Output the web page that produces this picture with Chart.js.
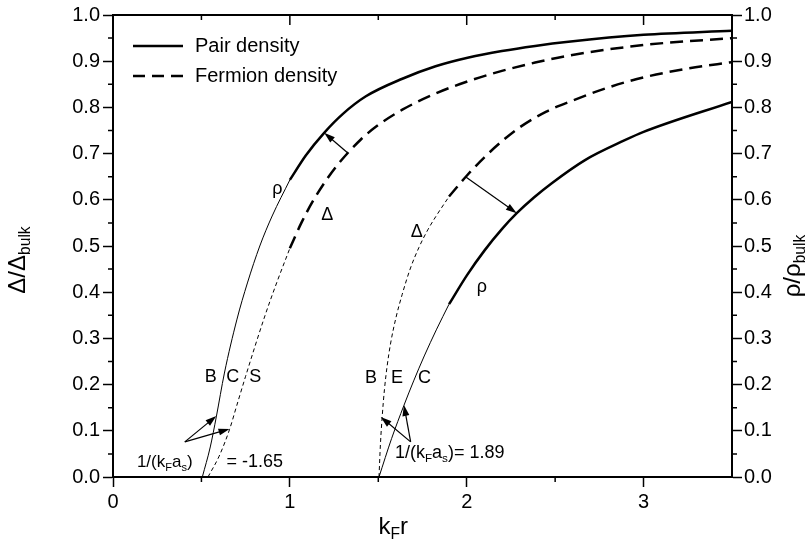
<!DOCTYPE html>
<html lang="en">
<head>
<meta charset="UTF-8">
<title>Pair and fermion density</title>
<script src="https://cdn.jsdelivr.net/npm/chart.js"></script>
<style>
  body { margin: 0; background: #fff; }
  #wrap { width: 810px; height: 548px; }
</style>
</head>
<body>
<div id="wrap"><canvas id="densityChart" width="810" height="548"></canvas></div>
<script>
  // axis ticks
  const xTicks = [0, 1, 2, 3];
  const xMinorTicks = [0.5, 1.5, 2.5];
  const yTicks = [0, 0.1, 0.2, 0.3, 0.4, 0.5, 0.6, 0.7, 0.8, 0.9, 1.0];
  const yMinorTicks = [0.05, 0.15, 0.25, 0.35, 0.45, 0.55, 0.65, 0.75, 0.85, 0.95];

  // BCS side, 1/(kF as) = -1.65
  const rhoBcsX = [0.505, 0.55, 0.584, 0.63, 0.70, 0.76, 0.83, 0.90, 1.0, 1.09, 1.194, 1.30, 1.43, 1.636, 1.824, 2.011, 2.199, 2.387, 2.575, 3.0, 3.5];
  const rhoBcsY = [0, 0.065, 0.13, 0.225, 0.34, 0.42, 0.50, 0.565, 0.643, 0.696, 0.745, 0.786, 0.824, 0.862, 0.889, 0.908, 0.922, 0.933, 0.942, 0.957, 0.966];
  const deltaBcsX = [0.537, 0.60, 0.659, 0.70, 0.749, 0.86, 0.93, 1.0, 1.065, 1.13, 1.21, 1.29, 1.40, 1.486, 1.636, 1.824, 2.011, 2.199, 2.387, 2.575, 3.0, 3.5];
  const deltaBcsY = [0, 0.045, 0.103, 0.155, 0.217, 0.35, 0.425, 0.495, 0.55, 0.597, 0.645, 0.685, 0.73, 0.758, 0.795, 0.83, 0.857, 0.879, 0.897, 0.912, 0.935, 0.950];

  // BEC side, 1/(kF as) = 1.89
  const rhoBecX = [1.504, 1.575, 1.645, 1.70, 1.76, 1.83, 1.9, 2.0, 2.1, 2.2, 2.283, 2.38, 2.481, 2.669, 2.894, 3.0, 3.5];
  const rhoBecY = [0, 0.083, 0.155, 0.208, 0.262, 0.32, 0.374, 0.436, 0.490, 0.537, 0.571, 0.605, 0.636, 0.686, 0.729, 0.747, 0.812];
  const deltaBecX = [1.504, 1.512, 1.522, 1.535, 1.55, 1.57, 1.60, 1.635, 1.68, 1.73, 1.78, 1.824, 1.9, 2.0, 2.1, 2.2, 2.3, 2.45, 2.6, 2.8, 3.0, 3.25, 3.5];
  const deltaBecY = [0, 0.07, 0.13, 0.19, 0.24, 0.29, 0.345, 0.395, 0.45, 0.497, 0.535, 0.563, 0.607, 0.652, 0.692, 0.727, 0.757, 0.791, 0.815, 0.843, 0.865, 0.884, 0.898];

  // where the curves switch from thin to thick
  const bcsThickFrom = 1.0;
  const becThickFrom = 1.9;

  // annotation arrows [x1, y1, x2, y2] in data units
  const arrows = [
    [1.326, 0.702, 1.194, 0.745],
    [1.993, 0.650, 2.283, 0.571],
    [0.406, 0.076, 0.584, 0.132],
    [0.406, 0.076, 0.659, 0.104],
    [1.683, 0.076, 1.514, 0.130],
    [1.683, 0.076, 1.645, 0.156]
  ];
  // curve labels [text, x, y]
  const curveLabels = [
    ['ρ', 0.93, 0.623], ['Δ', 1.211, 0.567],
    ['Δ', 1.718, 0.530], ['ρ', 2.085, 0.411],
    ['B', 0.553, 0.216], ['C', 0.677, 0.216], ['S', 0.805, 0.216],
    ['B', 1.459, 0.214], ['E', 1.606, 0.214], ['C', 1.762, 0.214]
  ];

  const FONT = '"Liberation Sans", Arial, sans-serif';

  function pts(xs, ys, keep) {
    const out = [];
    xs.forEach((x, i) => { if (keep(x)) out.push({ x: x, y: ys[i] }); });
    return out;
  }

  function line(data, thick, dashed) {
    return {
      data: data,
      borderColor: '#000',
      borderWidth: thick ? 2.5 : 1,
      borderDash: dashed ? (thick ? [13, 7] : [4, 3]) : [],
      pointRadius: 0,
      fill: false,
      cubicInterpolationMode: 'monotone'
    };
  }

  const datasets = [
    line(pts(rhoBcsX, rhoBcsY, x => x <= bcsThickFrom), false, false),
    line(pts(rhoBcsX, rhoBcsY, x => x >= bcsThickFrom), true, false),
    line(pts(deltaBcsX, deltaBcsY, x => x <= bcsThickFrom), false, true),
    line(pts(deltaBcsX, deltaBcsY, x => x >= bcsThickFrom), true, true),
    line(pts(rhoBecX, rhoBecY, x => x <= becThickFrom), false, false),
    line(pts(rhoBecX, rhoBecY, x => x >= becThickFrom), true, false),
    line(pts(deltaBecX, deltaBecY, x => x <= becThickFrom), false, true),
    line(pts(deltaBecX, deltaBecY, x => x >= becThickFrom), true, true)
  ];

  // text with subscripts: parts = [[text, isSub], ...]
  function richWidth(ctx, parts, size) {
    let w = 0;
    parts.forEach(p => {
      ctx.font = (p[1] ? size * 0.65 : size) + 'px ' + FONT;
      w += ctx.measureText(p[0]).width;
    });
    return w;
  }
  function richText(ctx, parts, x, y, size) {
    let cx = x;
    ctx.textAlign = 'left';
    ctx.textBaseline = 'middle';
    parts.forEach(p => {
      ctx.font = (p[1] ? size * 0.65 : size) + 'px ' + FONT;
      ctx.fillText(p[0], cx, p[1] ? y + size * 0.32 : y);
      cx += ctx.measureText(p[0]).width;
    });
  }

  function drawArrow(ctx, x1, y1, x2, y2) {
    const a = Math.atan2(y2 - y1, x2 - x1), L = 11, W = 3.5;
    const c = Math.cos(a), s = Math.sin(a);
    ctx.beginPath();
    ctx.moveTo(x1, y1);
    ctx.lineTo(x2 - L * 0.8 * c, y2 - L * 0.8 * s);
    ctx.stroke();
    ctx.beginPath();
    ctx.moveTo(x2, y2);
    ctx.lineTo(x2 - L * c + W * s, y2 - L * s - W * c);
    ctx.lineTo(x2 - L * c - W * s, y2 - L * s + W * c);
    ctx.closePath();
    ctx.fill();
  }

  const decorations = {
    id: 'decorations',
    beforeDraw(chart) {
      const ctx = chart.ctx;
      ctx.save();
      ctx.fillStyle = '#fff';
      ctx.fillRect(0, 0, chart.width, chart.height);
      ctx.restore();
    },
    afterDraw(chart) {
      const ctx = chart.ctx;
      const a = chart.chartArea;
      const sx = chart.scales.x, sy = chart.scales.y;
      ctx.save();
      ctx.strokeStyle = '#000';
      ctx.fillStyle = '#000';

      // top frame and mirrored ticks
      ctx.lineWidth = 2;
      ctx.beginPath();
      ctx.moveTo(a.left - 1, a.top);
      ctx.lineTo(a.right + 1, a.top);
      ctx.stroke();
      ctx.lineWidth = 1.5;
      ctx.beginPath();
      xTicks.forEach(v => { const p = sx.getPixelForValue(v); ctx.moveTo(p, a.top); ctx.lineTo(p, a.top + 10); });
      xMinorTicks.forEach(v => { const p = sx.getPixelForValue(v); ctx.moveTo(p, a.top); ctx.lineTo(p, a.top + 5); });
      // minor ticks, outward
      xMinorTicks.forEach(v => { const p = sx.getPixelForValue(v); ctx.moveTo(p, a.bottom); ctx.lineTo(p, a.bottom + 5); });
      yMinorTicks.forEach(v => {
        const p = sy.getPixelForValue(v);
        ctx.moveTo(a.left - 5, p); ctx.lineTo(a.left, p);
        ctx.moveTo(a.right, p); ctx.lineTo(a.right + 5, p);
      });
      ctx.stroke();

      // legend
      ctx.lineWidth = 2.5;
      ctx.beginPath();
      ctx.moveTo(a.left + 20, a.top + 31);
      ctx.lineTo(a.left + 70, a.top + 31);
      ctx.stroke();
      ctx.setLineDash([12, 7]);
      ctx.beginPath();
      ctx.moveTo(a.left + 20, a.top + 61);
      ctx.lineTo(a.left + 70, a.top + 61);
      ctx.stroke();
      ctx.setLineDash([]);
      ctx.font = '20px ' + FONT;
      ctx.textAlign = 'left';
      ctx.textBaseline = 'middle';
      ctx.fillText('Pair density', a.left + 82, a.top + 31);
      ctx.fillText('Fermion density', a.left + 82, a.top + 61);

      // arrows
      ctx.lineWidth = 1.2;
      arrows.forEach(r => drawArrow(ctx,
        sx.getPixelForValue(r[0]), sy.getPixelForValue(r[1]),
        sx.getPixelForValue(r[2]), sy.getPixelForValue(r[3])));

      // curve labels
      ctx.font = '18px ' + FONT;
      ctx.textAlign = 'center';
      ctx.textBaseline = 'middle';
      curveLabels.forEach(l => ctx.fillText(l[0], sx.getPixelForValue(l[1]), sy.getPixelForValue(l[2])));

      // scattering length labels
      const inv = [['1/(k', false], ['F', true], ['a', false], ['s', true], [')', false]];
      richText(ctx, inv, sx.getPixelForValue(0.135), sy.getPixelForValue(0.032), 17);
      richText(ctx, [['= -1.65', false]], sx.getPixelForValue(0.642), sy.getPixelForValue(0.032), 18);
      richText(ctx, inv.concat([['= 1.89', false]]), sx.getPixelForValue(1.594), sy.getPixelForValue(0.052), 18);

      // axis titles
      const xt = [['k', false], ['F', true], ['r', false]];
      richText(ctx, xt, sx.getPixelForValue(1.585) - richWidth(ctx, xt, 24) / 2, 527, 24);

      const lt = [['Δ/Δ', false], ['bulk', true]];
      ctx.save();
      ctx.translate(18, 260);
      ctx.rotate(-Math.PI / 2);
      richText(ctx, lt, -richWidth(ctx, lt, 24) / 2, 0, 24);
      ctx.restore();

      const rt = [['ρ/ρ', false], ['bulk', true]];
      ctx.save();
      ctx.translate(793, 266);
      ctx.rotate(-Math.PI / 2);
      richText(ctx, rt, -richWidth(ctx, rt, 24) / 2, 0, 24);
      ctx.restore();

      ctx.restore();
    }
  };

  function yAxis(pos, width, pad) {
    return {
      type: 'linear',
      position: pos,
      min: 0,
      max: 1,
      afterBuildTicks: s => { s.ticks = yTicks.map(v => ({ value: v })); },
      afterFit: s => { s.width = width; },
      ticks: {
        color: '#000',
        font: { family: FONT, size: 20 },
        padding: pad,
        autoSkip: false,
        callback: v => Number(v).toFixed(1)
      },
      grid: { drawOnChartArea: false, tickLength: 10, tickWidth: 1.5, tickColor: '#000' },
      border: { color: '#000', width: 2 }
    };
  }

  new Chart(document.getElementById('densityChart'), {
    type: 'line',
    data: { datasets: datasets },
    options: {
      responsive: false,
      animation: false,
      devicePixelRatio: 1,
      layout: { padding: { top: 15, left: 0, right: 0, bottom: 0 } },
      plugins: {
        legend: { display: false },
        tooltip: { enabled: false }
      },
      scales: {
        x: {
          type: 'linear',
          min: 0,
          max: 3.5,
          afterBuildTicks: s => { s.ticks = xTicks.map(v => ({ value: v })); },
          afterFit: s => { s.height = 71; },
          ticks: {
            color: '#000',
            font: { family: FONT, size: 20 },
            padding: 3,
            maxRotation: 0,
            autoSkip: false,
            callback: v => String(v)
          },
          grid: { drawOnChartArea: false, tickLength: 10, tickWidth: 1.5, tickColor: '#000' },
          border: { color: '#000', width: 2 }
        },
        y: yAxis('left', 113, 3),
        y2: yAxis('right', 78, 2)
      }
    },
    plugins: [decorations]
  });
</script>
</body>
</html>
